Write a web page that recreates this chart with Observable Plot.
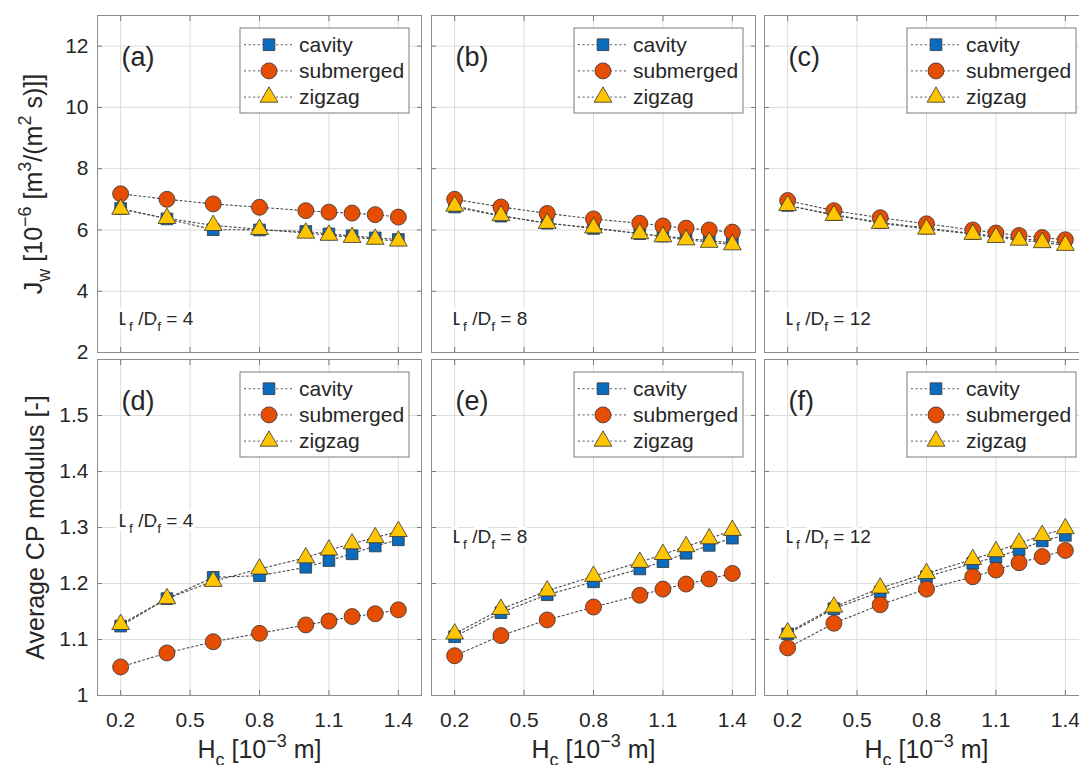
<!DOCTYPE html>
<html><head><meta charset="utf-8">
<script src="https://cdn.jsdelivr.net/npm/d3@7"></script>
<script src="https://cdn.jsdelivr.net/npm/@observablehq/plot@0.6"></script>
<style>
html,body{margin:0;padding:0;background:#fff;overflow:hidden;width:1079px;height:765px}
#root{position:relative;width:1079px;height:765px;overflow:hidden;background:#fff}
#root svg{position:absolute}
</style></head>
<body><div id="root"></div>
<script>
// ---------- data ----------
const hc = [0.2, 0.4, 0.6, 0.8, 1.0, 1.1, 1.2, 1.3, 1.4];
const xTicks = [0.2, 0.5, 0.8, 1.1, 1.4];
const jwTicks = [2, 4, 6, 8, 10, 12];
const cpTicks = [1, 1.1, 1.2, 1.3, 1.4, 1.5];
const seriesNames = ["cavity", "submerged", "zigzag"];
const ratios = [4, 8, 12];
const letters = ["a", "b", "c", "d", "e", "f"];
const xLabel = "H_{c} [10^{−3} m]";
const yLabelJw = "J_{w} [10^{−6} [m^{3}/(m^{2} s)]]";
const yLabelCp = "Average CP modulus [-]";

const jw_cavity_4    = [6.70, 6.36, 6.01, 6.00, 5.95, 5.87, 5.81, 5.74, 5.69];
const jw_submerged_4 = [7.18, 7.00, 6.85, 6.74, 6.63, 6.58, 6.55, 6.50, 6.42];
const jw_zigzag_4    = [6.68, 6.38, 6.15, 6.02, 5.90, 5.83, 5.76, 5.70, 5.64];
const jw_cavity_8    = [6.75, 6.45, 6.22, 6.05, 5.88, 5.80, 5.72, 5.65, 5.58];
const jw_submerged_8 = [7.00, 6.75, 6.54, 6.36, 6.22, 6.13, 6.06, 6.00, 5.93];
const jw_zigzag_8    = [6.78, 6.47, 6.22, 6.07, 5.88, 5.78, 5.68, 5.60, 5.52];
const jw_cavity_12   = [6.80, 6.50, 6.25, 6.06, 5.88, 5.80, 5.72, 5.65, 5.57];
const jw_submerged_12= [6.96, 6.63, 6.40, 6.20, 6.00, 5.90, 5.82, 5.75, 5.68];
const jw_zigzag_12   = [6.80, 6.48, 6.22, 6.03, 5.86, 5.76, 5.67, 5.59, 5.50];

const cp_cavity_4    = [1.124, 1.173, 1.211, 1.214, 1.229, 1.241, 1.253, 1.267, 1.278];
const cp_submerged_4 = [1.051, 1.076, 1.096, 1.111, 1.126, 1.133, 1.141, 1.146, 1.153];
const cp_zigzag_4    = [1.127, 1.173, 1.204, 1.226, 1.246, 1.260, 1.271, 1.282, 1.293];
const cp_cavity_8    = [1.105, 1.148, 1.180, 1.203, 1.226, 1.239, 1.254, 1.268, 1.281];
const cp_submerged_8 = [1.071, 1.107, 1.135, 1.158, 1.179, 1.190, 1.199, 1.208, 1.218];
const cp_zigzag_8    = [1.110, 1.154, 1.187, 1.213, 1.238, 1.252, 1.266, 1.280, 1.295];
const cp_cavity_12   = [1.110, 1.155, 1.185, 1.212, 1.236, 1.247, 1.260, 1.276, 1.286];
const cp_submerged_12= [1.085, 1.129, 1.162, 1.190, 1.212, 1.224, 1.237, 1.248, 1.259];
const cp_zigzag_12   = [1.112, 1.158, 1.192, 1.218, 1.243, 1.257, 1.272, 1.286, 1.298];

const jwData = {4: [jw_cavity_4, jw_submerged_4, jw_zigzag_4],
                8: [jw_cavity_8, jw_submerged_8, jw_zigzag_8],
                12: [jw_cavity_12, jw_submerged_12, jw_zigzag_12]};
const cpData = {4: [cp_cavity_4, cp_submerged_4, cp_zigzag_4],
                8: [cp_cavity_8, cp_submerged_8, cp_zigzag_8],
                12: [cp_cavity_12, cp_submerged_12, cp_zigzag_12]};

// ---------- styles ----------
const styleOf = {
  cavity:    {symbol: "square",   r: 6.6, fill: "#0b6cbf"},
  submerged: {symbol: "circle",   r: 8.0, fill: "#e54e02"},
  zigzag:    {symbol: "triangle", r: 6.6, fill: "#ffc600"}
};
const FONT = "'Liberation Sans', Arial, sans-serif";
const TXT = "#262626";
const FRAME_W = 324;
const colLeft = [97, 431, 764];

function rich(textEl, F) {
  const s = textEl.textContent;
  if (!/[_^]\{/.test(s)) return;
  while (textEl.firstChild) textEl.removeChild(textEl.firstChild);
  const re = /([_^])\{([^}]*)\}/g;
  let last = 0, m, shift = 0;
  const add = (str, kind) => {
    const t = document.createElementNS("http://www.w3.org/2000/svg", "tspan");
    t.textContent = str;
    const target = kind === "sub" ? 0.32 * F : kind === "sup" ? -0.42 * F : 0;
    t.setAttribute("dy", (target - shift).toFixed(2));
    shift = target;
    if (kind) t.setAttribute("font-size", (0.72 * F).toFixed(1));
    textEl.appendChild(t);
  };
  while ((m = re.exec(s))) {
    if (m.index > last) add(s.slice(last, m.index), null);
    add(m[2], m[1] === "_" ? "sub" : "sup");
    last = re.lastIndex;
  }
  if (last < s.length) add(s.slice(last), null);
}

function makePanel(row, col) {
  const ratio = ratios[col];
  const arrays = row === 0 ? jwData[ratio] : cpData[ratio];
  const data = seriesNames.flatMap((s, i) => hc.map((x, j) => ({s, x, y: arrays[i][j]})));
  const yTicks = row === 0 ? jwTicks : cpTicks;
  const yDomain = row === 0 ? [2, 13] : [1, 1.6];
  const ml = col === 0 ? 97 : 6, mr = 6;
  const mt = row === 0 ? 15 : 6, mb = row === 0 ? 4 : 70;
  const fh = row === 0 ? 337 : 336;
  const width = ml + FRAME_W + mr, height = mt + fh + mb;

  const marks = [
    Plot.gridX({ticks: xTicks, stroke: "#dcdcdc", strokeOpacity: 1}),
    Plot.gridY({ticks: yTicks, stroke: "#dcdcdc", strokeOpacity: 1}),
    Plot.axisX({ticks: xTicks, anchor: "bottom", tickSize: -5, tickFormat: () => "", label: null, stroke: "#7a7a7a"}),
    Plot.axisX({ticks: xTicks, anchor: "top", tickSize: -5, tickFormat: () => "", label: null, stroke: "#7a7a7a"}),
    Plot.axisY({ticks: yTicks, anchor: "left", tickSize: -5, tickFormat: () => "", label: null, stroke: "#7a7a7a"}),
    Plot.axisY({ticks: yTicks, anchor: "right", tickSize: -5, tickFormat: () => "", label: null, stroke: "#7a7a7a"}),
    Plot.frame({stroke: "#8c8c8c", strokeWidth: 1})
  ];
  for (const s of seriesNames) {
    const sd = data.filter(d => d.s === s);
    marks.push(Plot.line(sd, {x: "x", y: "y", stroke: "#4a4a4a", strokeWidth: 1.1, strokeDasharray: "2,2.6"}));
    marks.push(Plot.dot(sd, {x: "x", y: "y", symbol: styleOf[s].symbol, r: styleOf[s].r,
      fill: styleOf[s].fill, stroke: "#333", strokeWidth: 0.8}));
  }
  if (col === 0) {
    marks.push(Plot.axisY({ticks: yTicks, anchor: "left", tickSize: 0, tickPadding: 9, fontSize: 21,
      tickFormat: d => String(d), label: null, fill: TXT}));
    marks.push(Plot.text([row === 0 ? yLabelJw : yLabelCp], {frameAnchor: "left", rotate: -90,
      textAnchor: "middle", lineAnchor: "middle",
      dx: row === 0 ? -64 : -61.5, fontSize: 25, fill: TXT}));
  }
  if (row === 1) {
    marks.push(Plot.axisX({ticks: xTicks, anchor: "bottom", tickSize: 0, tickPadding: 17, fontSize: 21,
      tickFormat: d3.format(".1f"), label: null, fill: TXT}));
    marks.push(Plot.text([xLabel], {frameAnchor: "bottom", textAnchor: "middle", lineAnchor: "middle",
      dy: 54, fontSize: 25, fill: TXT}));
  }
  // panel letter
  marks.push(Plot.text([`(${letters[row * 3 + col]})`], {frameAnchor: "top-left", textAnchor: "start",
    lineAnchor: "middle", dx: 24, dy: 41.5, fontSize: 27, fill: TXT}));
  // ratio annotation
  const ratioDy = row === 0 ? null : (col === 0 ? 161 : 177);
  marks.push(Plot.text([`L_{f} /D_{f} = ${ratio}`], {
    frameAnchor: row === 0 ? "bottom-left" : "top-left", textAnchor: "start", lineAnchor: "middle",
    dx: 21, dy: row === 0 ? -33.5 : ratioDy, fontSize: 19, fill: TXT,
    stroke: "white", strokeWidth: 7, paintOrder: "stroke"}));

  const svg = Plot.plot({
    width, height, marginLeft: ml, marginRight: mr, marginTop: mt, marginBottom: mb,
    x: {domain: [0.1, 1.5], axis: null},
    y: {domain: yDomain, axis: null},
    style: `background:transparent;font-family:${FONT};max-width:none;overflow:visible;`,
    marks
  });
  svg.style.left = (colLeft[col] - ml) + "px";
  svg.style.top = (row === 0 ? 0 : 353) + "px";

  // rich text (subscripts / superscripts)
  svg.querySelectorAll("text").forEach(t => {
    const fs = parseFloat(t.closest("[font-size]")?.getAttribute("font-size") || "18");
    rich(t, fs);
  });

  // legend
  const lg = d3.select(svg).append("g")
    .attr("transform", `translate(${ml + FRAME_W - 12 - 169},${mt + 13})`)
    .attr("font-family", FONT).attr("text-anchor", "start");
  lg.append("rect").attr("width", 169).attr("height", 85)
    .attr("fill", "white").attr("stroke", "#7a7a7a").attr("stroke-width", 1);
  seriesNames.forEach((s, i) => {
    const cy = 16.7 + i * 26.2;
    lg.append("line").attr("x1", 4).attr("x2", 54).attr("y1", cy).attr("y2", cy)
      .attr("stroke", "#555").attr("stroke-width", 1).attr("stroke-dasharray", "2,2.6");
    const st = styleOf[s];
    const sym = {square: d3.symbolSquare, circle: d3.symbolCircle, triangle: d3.symbolTriangle}[st.symbol];
    lg.append("path").attr("d", d3.symbol(sym, st.r * st.r * Math.PI)())
      .attr("transform", `translate(29,${cy})`)
      .attr("fill", st.fill).attr("stroke", "#333").attr("stroke-width", 0.8);
    lg.append("text").attr("x", 59).attr("y", cy).attr("dy", "0.35em")
      .attr("text-anchor", "start")
      .attr("font-size", 21).attr("fill", TXT).text(s);
  });
  return svg;
}

const root = document.getElementById("root");
for (let row = 0; row < 2; row++)
  for (let col = 0; col < 3; col++)
    root.appendChild(makePanel(row, col));
</script>
</body></html>
